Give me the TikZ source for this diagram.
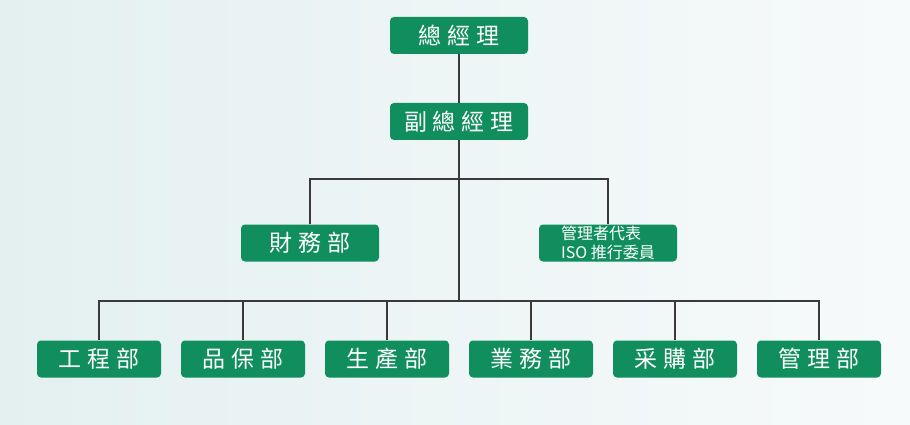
\documentclass[tikz,border=0pt]{standalone}
\usepackage{fontspec}
\newfontfamily\cjk{Noto Sans CJK TC}
\usepackage{xcolor}

\definecolor{boxgreen}{RGB}{16,142,94}
\definecolor{linegray}{RGB}{58,58,58}
\definecolor{bgleft}{RGB}{228,240,240}
\definecolor{bgmid}{RGB}{243,248,248}
\definecolor{bgright}{RGB}{247,250,251}

\newcommand{\gp}{\hspace{6pt}}

\tikzset{
  orgbox/.style={rounded corners=4pt, fill=boxgreen, text=white, inner sep=0pt,
    minimum height=37pt, font=\cjk\fontsize{23}{26}\selectfont},
  bigbox/.style={orgbox, minimum width=138pt},
  deptbox/.style={orgbox, minimum width=124pt},
  link/.style={draw=linegray, line width=1.6pt}
}

\begin{document}
\begin{tikzpicture}[x=1pt,y=-1pt]
  % background
  \shade[left color=bgleft, middle color=bgmid, right color=bgright] (0,0) rectangle (910,425);
  \useasboundingbox (0,0) rectangle (910,425);

  \node[bigbox] (gm) at (459,35.5) {總\gp 經\gp 理};
  \node[bigbox] (dgm) at (459,121.5) {副\gp 總\gp 經\gp 理};
  \node[bigbox] (fin) at (310,243) {財\gp 務\gp 部};
  \node[bigbox, align=left, font=\cjk\fontsize{16}{19}\selectfont] (iso) at (608,243)
    {管理者代表\\ISO 推行委員};

  \coordinate (j1) at (459,179);
  \coordinate (j2) at (459,301);

  \node[deptbox] (eng) at (99,359) {工\gp 程\gp 部};
  \node[deptbox] (qa) at (243,359) {品\gp 保\gp 部};
  \node[deptbox] (prod) at (387,359) {生\gp 產\gp 部};
  \node[deptbox] (sales) at (531,359) {業\gp 務\gp 部};
  \node[deptbox] (buy) at (675,359) {采\gp 購\gp 部};
  \node[deptbox] (adm) at (819,359) {管\gp 理\gp 部};

  % connectors
  \draw[link] (gm) -- (dgm);
  \draw[link] (dgm.south) -- (j2);
  \draw[link] (fin.north) |- (j1) -| (iso.north);
  \foreach \d in {eng,qa,prod,sales,buy,adm}
    \draw[link] (j2) -| (\d.north);
\end{tikzpicture}
\end{document}
